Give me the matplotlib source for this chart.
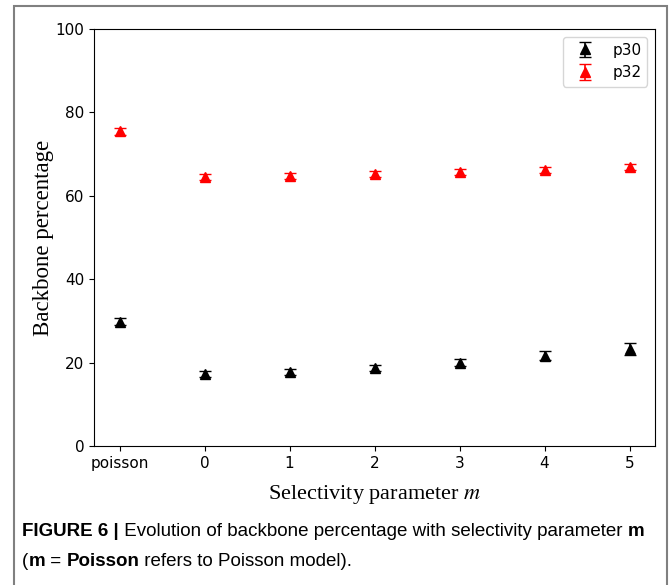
import matplotlib
matplotlib.use("Agg")
import matplotlib.pyplot as plt
from matplotlib.patches import Rectangle

plt.rcParams['mathtext.fontset'] = 'stix'

categories = ["poisson", "0", "1", "2", "3", "4", "5"]
p30 = [29.8, 17.3, 17.7, 18.7, 20.0, 21.7, 23.3]
p30_err = [0.8, 0.7, 0.7, 0.8, 0.9, 1.1, 1.5]
p32 = [75.5, 64.5, 64.8, 65.3, 65.7, 66.2, 66.9]
p32_err = [0.8, 0.7, 0.7, 0.7, 0.7, 0.8, 0.8]

fig = plt.figure(figsize=(6.69, 5.85), dpi=100)
ax = fig.add_axes([94/669, 1-446/585, (655-94)/669, (446-29)/585])

x = list(range(len(categories)))
ax.errorbar(x, p30, yerr=p30_err, fmt='^', color='black', ecolor='black',
            markersize=7, capsize=4, elinewidth=1.2, label='p30')
ax.errorbar(x, p32, yerr=p32_err, fmt='^', color='red', ecolor='red',
            markersize=7, capsize=4, elinewidth=1.2, label='p32')

ax.set_ylim(0, 100)
ax.set_xlim(-0.3, 6.3)
ax.set_xticks(x)
ax.set_xticklabels(categories)
ax.set_yticks([0, 20, 40, 60, 80, 100])
ax.tick_params(labelsize=11)
ax.set_xlabel("Selectivity parameter $m$", family="Liberation Serif", fontsize=16, labelpad=9)
ax.set_ylabel("Backbone percentage", family="Liberation Serif", fontsize=16.5, labelpad=1)
ax.legend(loc='upper right', fontsize=11)

fig.patches.append(Rectangle((14/669, -0.01), (667-14)/669, 1-6/585+0.01,
                             transform=fig.transFigure, fill=False,
                             edgecolor='#808080', linewidth=1.5))

fs = 13.5

def line(parts, ypix):
    xpos = 22
    for txt, w in parts:
        tt = fig.text(xpos/669, 1-ypix/585, txt, family="Liberation Sans", fontweight=w,
                      fontsize=fs, va='center')
        fig.canvas.draw()
        b = tt.get_window_extent(fig.canvas.get_renderer())
        xpos = b.x1

line([("FIGURE 6 |", 'bold'),
      (" Evolution of backbone percentage with selectivity parameter ", 'normal'),
      ("m", 'bold')], 531)
line([("(", 'normal'), ("m", 'bold'), (" = ", 'normal'), ("Poisson", 'bold'),
      (" refers to Poisson model).", 'normal')], 561)

fig.savefig("out.png", dpi=100)
